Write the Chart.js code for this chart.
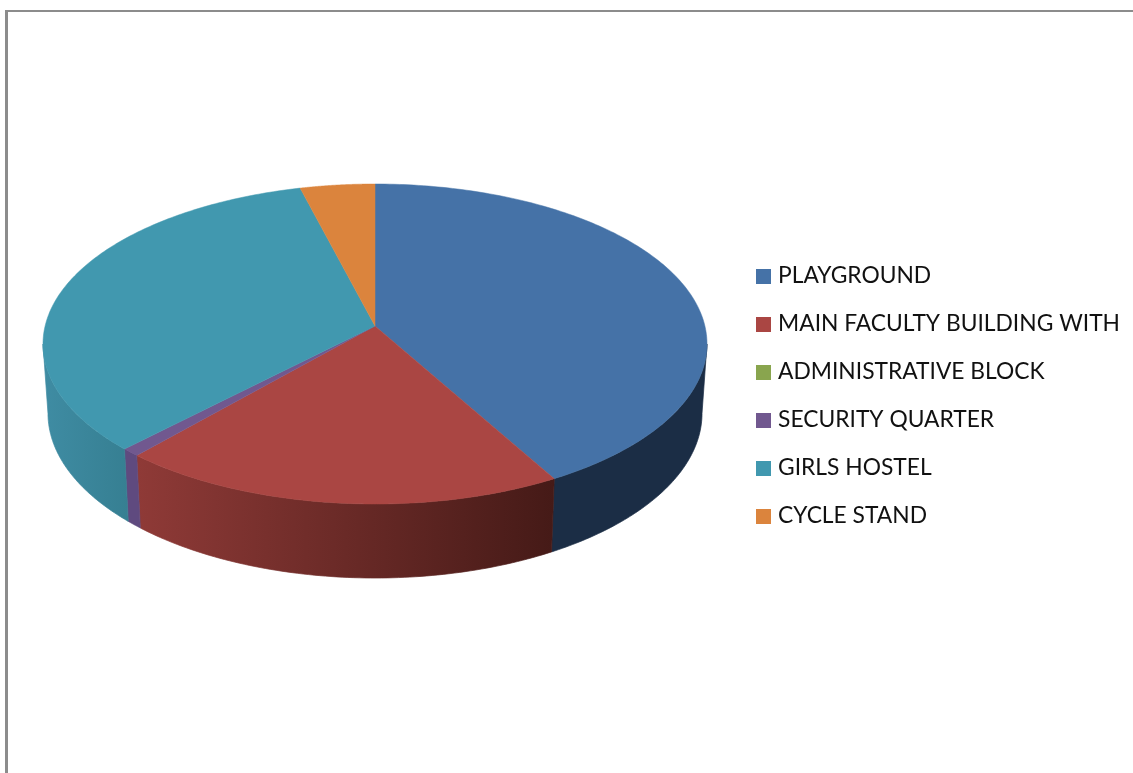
<!DOCTYPE html>
<html>
<head>
<meta charset="utf-8">
<title>Campus land use</title>
<script src="https://cdn.jsdelivr.net/npm/chart.js@4"></script>
<style>
    html, body { margin: 0; padding: 0; background: #fff; overflow: hidden; }
    #wrap { position: relative; width: 1133px; height: 773px; }
    #frame { position: absolute; left: 5px; top: 10px; right: 0; bottom: 0; border-left: 3px solid #8c8c8c; border-top: 2px solid #8c8c8c; }
    canvas { position: absolute; left: 0; top: 0; }
</style>
</head>
<body>
<div id="wrap">
    <div id="frame"></div>
    <canvas id="pieChart" width="1133" height="773"></canvas>
</div>
<script>
const categories = ['PLAYGROUND', 'MAIN FACULTY BUILDING WITH', 'ADMINISTRATIVE BLOCK', 'SECURITY QUARTER', 'GIRLS HOSTEL', 'CYCLE STAND'];
const shares = [41.85, 19.65, 0, 0.8, 33.65, 4.05];

const sliceColors = ['#4572A7', '#AA4643', '#89A54E', '#71588F', '#4198AF', '#DB843D'];
// side wall colour at the left and right end of each slice's wall
const wallLeft = ['#1B2D45', '#8F3A37', '#5A6F33', '#5F4A7F', '#3F8CA3', '#8F5628'];
const wallRight = ['#1B2D45', '#451A17', '#5A6F33', '#5F4A7F', '#367F92', '#8F5628'];

// Perspective of the disc: unit circle -> screen
const CX = 375, APEX_Y = 326, TILT = -0.1125, RX = 329.9, RY = 121.3;

function topPoint(a) {
    const ux = Math.cos(a), uy = Math.sin(a), w = 1 + TILT * uy;
    return { x: CX + RX * ux / w, y: (RY * uy + APEX_Y) / w };
}

function bottomPoint(a) {
    const p = topPoint(a);
    return { x: CX + (p.x - CX) * 0.985, y: p.y * 1.03 + 58.9 };
}

const WALL_FROM = Math.asin(-TILT);
const WALL_TO = Math.PI - WALL_FROM;

function drawWall(ctx, start, end, leftColor, rightColor) {
    const from = Math.max(start, WALL_FROM);
    const to = Math.min(end, WALL_TO);
    if (to <= from) return;

    const steps = 80;
    const upper = [], lower = [];
    for (let i = 0; i <= steps; i++) {
        const a = from + (to - from) * i / steps;
        upper.push(topPoint(a));
        lower.push(bottomPoint(a));
    }
    const xs = upper.concat(lower).map(p => p.x);
    const grad = ctx.createLinearGradient(Math.min(...xs), 0, Math.max(...xs), 0);
    grad.addColorStop(0, leftColor);
    grad.addColorStop(1, rightColor);

    ctx.beginPath();
    upper.forEach((p, i) => i ? ctx.lineTo(p.x, p.y) : ctx.moveTo(p.x, p.y));
    lower.reverse().forEach(p => ctx.lineTo(p.x, p.y));
    ctx.closePath();
    ctx.fillStyle = grad;
    ctx.fill();
    // hides the hairline between neighbouring walls
    ctx.strokeStyle = grad;
    ctx.lineWidth = 0.7;
    ctx.stroke();
}

function drawTop(ctx, start, end, color) {
    if (end <= start) return;
    const steps = 160;
    ctx.beginPath();
    ctx.moveTo(CX, APEX_Y);
    for (let i = 0; i <= steps; i++) {
        const p = topPoint(start + (end - start) * i / steps);
        ctx.lineTo(p.x, p.y);
    }
    ctx.closePath();
    ctx.fillStyle = color;
    ctx.fill();
    ctx.strokeStyle = color;
    ctx.lineWidth = 0.5;
    ctx.stroke();
}

// Takes the angles Chart.js worked out for each arc and draws the slices as a 3D disc
const disc3d = {
    id: 'disc3d',
    beforeDatasetsDraw(chart) {
        const ctx = chart.ctx;
        const arcs = chart.getDatasetMeta(0).data;
        ctx.save();
        arcs.forEach((arc, i) => drawWall(ctx, arc.startAngle, arc.endAngle, wallLeft[i], wallRight[i]));
        arcs.forEach((arc, i) => drawTop(ctx, arc.startAngle, arc.endAngle, sliceColors[i]));
        ctx.restore();
        return false;
    }
};

function legendSwatch(color) {
    const c = document.createElement('canvas');
    c.width = 15;
    c.height = 15;
    const g = c.getContext('2d');
    g.fillStyle = color;
    g.fillRect(0, 0, 15, 15);
    return c;
}

const swatches = sliceColors.map(legendSwatch);

new Chart(document.getElementById('pieChart'), {
    type: 'pie',
    data: {
        labels: categories,
        datasets: [{ data: shares, backgroundColor: sliceColors, borderWidth: 0 }]
    },
    options: {
        responsive: false,
        animation: false,
        layout: { padding: { top: 19, right: 3 } },
        plugins: {
            tooltip: { enabled: false },
            legend: {
                position: 'right',
                labels: {
                    usePointStyle: true,
                    pointStyleWidth: 6,
                    padding: 25.2,
                    color: '#111111',
                    font: { family: 'Lato', size: 22.8 },
                    generateLabels(chart) {
                        const items = Chart.overrides.pie.plugins.legend.labels.generateLabels(chart);
                        items.forEach((item, i) => { item.pointStyle = swatches[i]; });
                        return items;
                    }
                }
            }
        }
    },
    plugins: [disc3d]
});
</script>
</body>
</html>
